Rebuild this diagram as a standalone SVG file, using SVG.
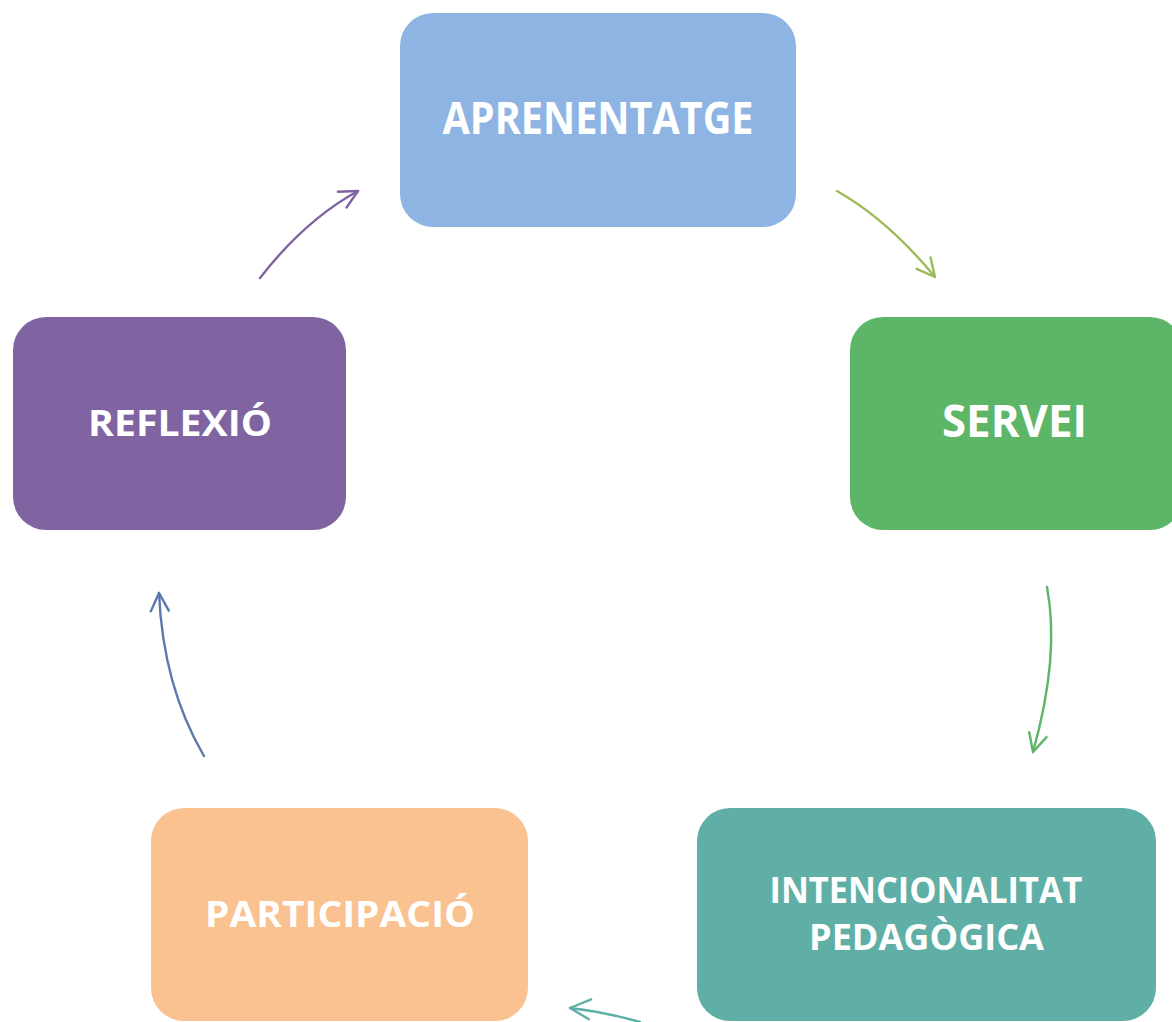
<svg xmlns="http://www.w3.org/2000/svg" width="1172" height="1022" viewBox="0 0 1172 1022">
<style>
.box{stroke:none}
.lbl{font-family:"Open Sans","Liberation Sans",sans-serif;font-weight:bold;fill:#FFFFFF;text-anchor:middle}
.big{font-size:44px}
.small{font-size:36px}
.conn{fill:none;stroke-width:2.4;stroke-linecap:round}
.head{fill:none;stroke-width:2.4;stroke-linecap:round;stroke-linejoin:round}
</style>
<defs>
<marker id="m1" markerUnits="userSpaceOnUse" markerWidth="40" markerHeight="40" refX="0" refY="0" viewBox="-20 -20 40 40" orient="auto" overflow="visible"><path class="head" d="M-18,-9 L0,0 L-18,9" stroke="#9BBB59"/></marker>
<marker id="m2" markerUnits="userSpaceOnUse" markerWidth="40" markerHeight="40" refX="0" refY="0" viewBox="-20 -20 40 40" orient="auto" overflow="visible"><path class="head" d="M-18,-9 L0,0 L-18,9" stroke="#5DB567"/></marker>
<marker id="m3" markerUnits="userSpaceOnUse" markerWidth="40" markerHeight="40" refX="0" refY="0" viewBox="-20 -20 40 40" orient="auto" overflow="visible"><path class="head" d="M-20,-9 L0,0 L-20,11" stroke="#5FAFA6"/></marker>
<marker id="m4" markerUnits="userSpaceOnUse" markerWidth="40" markerHeight="40" refX="0" refY="0" viewBox="-20 -20 40 40" orient="auto" overflow="visible"><path class="head" d="M-18,-9 L0,0 L-18,9" stroke="#5B78AE"/></marker>
<marker id="m5" markerUnits="userSpaceOnUse" markerWidth="40" markerHeight="40" refX="0" refY="0" viewBox="-20 -20 40 40" orient="auto" overflow="visible"><path class="head" d="M-18,-9 L0,0 L-18,9" stroke="#8064A2"/></marker>
</defs>
<rect width="1172" height="1022" fill="#FFFFFF"/>
<g id="connectors">
<path class="conn" d="M837,191 Q888,220 935,277" stroke="#9BBB59" marker-end="url(#m1)"/>
<path class="conn" d="M1047,587 Q1060,656 1033,752" stroke="#5DB567" marker-end="url(#m2)"/>
<path class="conn" d="M640,1022 Q605,1012 570,1008" stroke="#5FAFA6" marker-end="url(#m3)"/>
<path class="conn" d="M204,756 Q163,686 159,593" stroke="#5B78AE" marker-end="url(#m4)"/>
<path class="conn" d="M260,278 Q305,220 358,191" stroke="#8064A2" marker-end="url(#m5)"/>
</g>
<g id="node-aprenentatge">
<rect class="box" x="400" y="13" width="396" height="214" rx="33" fill="#8EB4E3"/>
<text class="lbl big" x="598" y="134" textLength="311" lengthAdjust="spacingAndGlyphs">APRENENTATGE</text>
</g>
<g id="node-servei">
<rect class="box" x="850" y="317" width="333" height="213" rx="33" fill="#5DB567"/>
<text class="lbl big" x="1014.5" y="437" textLength="145" lengthAdjust="spacingAndGlyphs">SERVEI</text>
</g>
<g id="node-intencionalitat">
<rect class="box" x="697" y="808" width="459" height="213" rx="33" fill="#5FAFA6"/>
<text class="lbl small" x="926" y="903" textLength="313" lengthAdjust="spacingAndGlyphs">INTENCIONALITAT</text>
<text class="lbl small" x="926.5" y="950" textLength="235" lengthAdjust="spacingAndGlyphs">PEDAGÒGICA</text>
</g>
<g id="node-participacio">
<rect class="box" x="151" y="808" width="377" height="213" rx="33" fill="#FAC191"/>
<text class="lbl small" x="340" y="927" textLength="270" lengthAdjust="spacingAndGlyphs">PARTICIPACIÓ</text>
</g>
<g id="node-reflexio">
<rect class="box" x="13" y="317" width="333" height="213" rx="33" fill="#8064A2"/>
<text class="lbl small" x="180" y="436" textLength="184" lengthAdjust="spacingAndGlyphs">REFLEXIÓ</text>
</g>
</svg>
